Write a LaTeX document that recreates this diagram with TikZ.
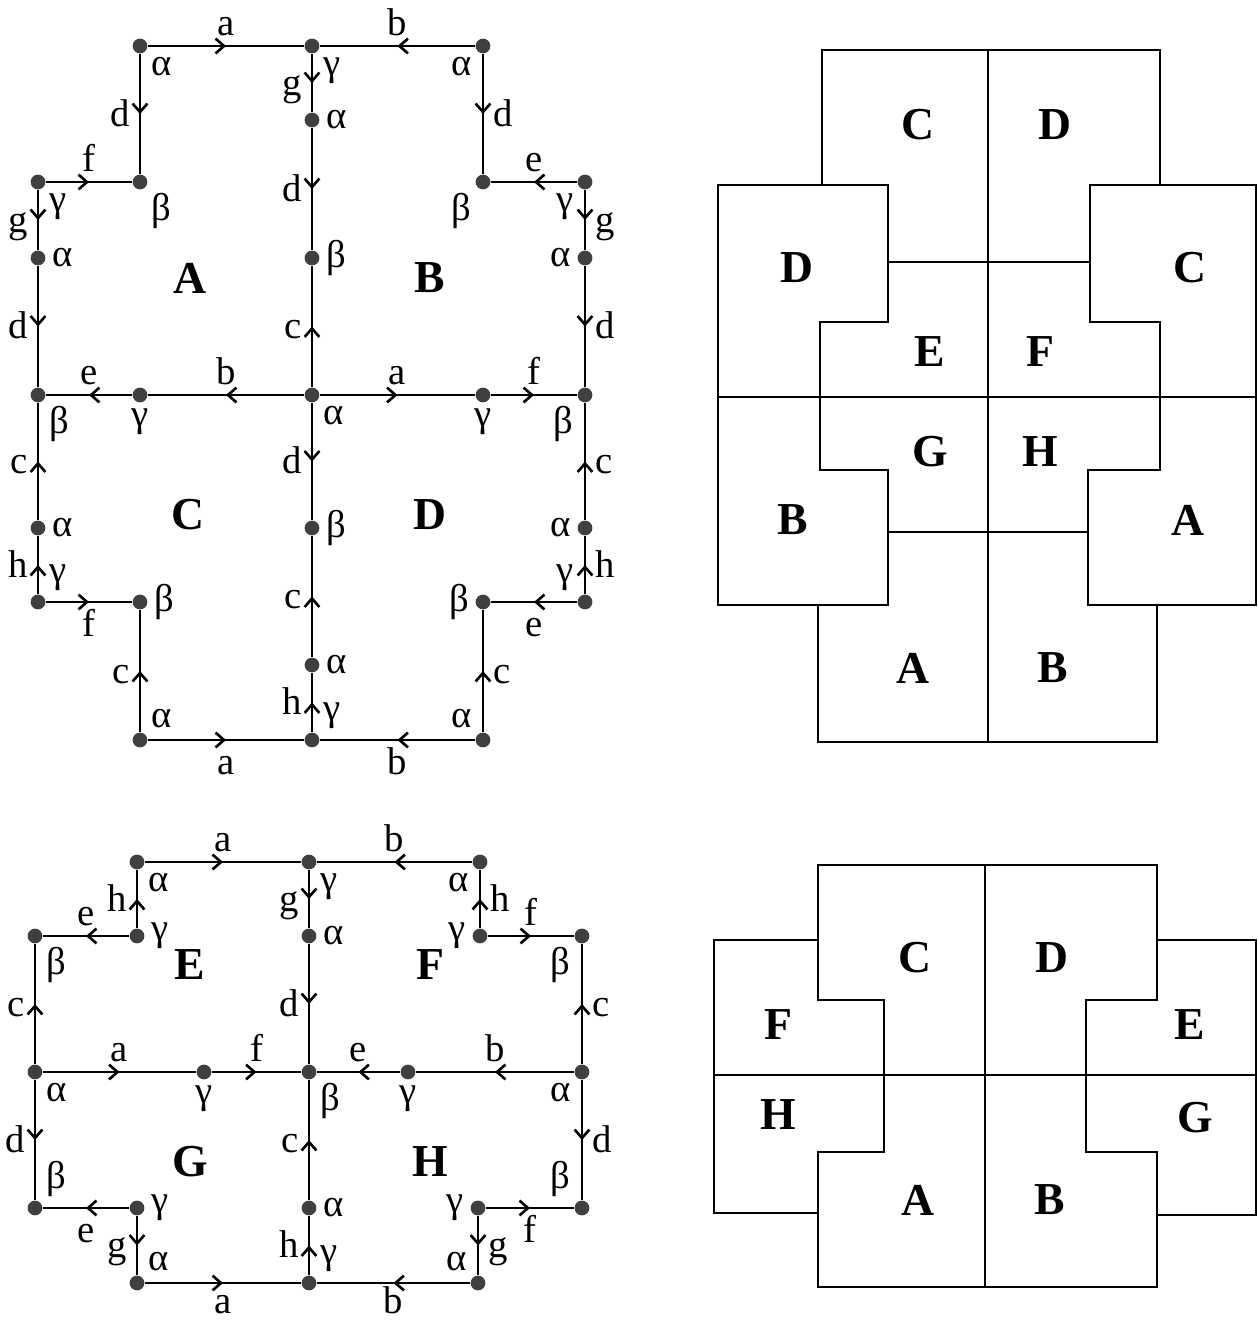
\documentclass[tikz,border=0pt]{standalone}
\usepackage{fontspec}
\setmainfont{Liberation Serif}
\usetikzlibrary{arrows.meta,decorations.markings}

\begin{document}
\begin{tikzpicture}[
    x=0.01cm, y=-0.01cm,
    vtx/.style={circle, fill=black!75, inner sep=0pt, minimum size=4.2pt},
    link/.style={line width=0.75pt, postaction={decorate},
        decoration={markings, mark=at position 0.5 with {\arrow{Straight Barb[length=2.4pt,width=4.2pt]}}},
        every node/.style={font=\fontsize{11}{12}\selectfont, inner sep=2.5pt, text height=1.5ex, text depth=0pt}},
    every label/.style={font=\fontsize{11}{12}\selectfont, inner sep=1.5pt},
    facelbl/.style={font=\fontsize{13}{15}\selectfont\bfseries},
    tile/.style={line width=0.7pt}
]
\useasboundingbox (0,0) rectangle (1258,1320);

% upper graph: faces A B C D
\node[vtx, label=below right:α] (uTL) at (140,46) {};
\node[vtx, label=below right:γ] (uTC) at (312,46) {};
\node[vtx, label=below left:α] (uTR) at (483,46) {};
\node[vtx, label=right:α] (uC1) at (312,120) {};
\node[vtx, label=below right:γ] (uLS) at (38,182) {};
\node[vtx, label=below right:β] (uLB) at (140,182) {};
\node[vtx, label=below left:β] (uRB) at (483,182) {};
\node[vtx, label=below left:γ] (uRS) at (585,182) {};
\node[vtx, label=right:α] (uLA) at (38,258) {};
\node[vtx, label=right:β] (uC2) at (312,258) {};
\node[vtx, label=left:α] (uRA) at (585,258) {};
\node[vtx, label=below right:β] (uL) at (38,395) {};
\node[vtx, label=below:γ] (uLG) at (140,395) {};
\node[vtx, label=below right:α] (uO) at (312,395) {};
\node[vtx, label=below:γ] (uRG) at (483,395) {};
\node[vtx, label=below left:β] (uR) at (585,395) {};
\node[vtx, label=right:α] (uLA2) at (38,528) {};
\node[vtx, label=right:β] (uC3) at (312,528) {};
\node[vtx, label=left:α] (uRA2) at (585,528) {};
\node[vtx, label=above right:γ] (uLS2) at (38,602) {};
\node[vtx, label=right:β] (uLB2) at (140,602) {};
\node[vtx, label=left:β] (uRB2) at (483,602) {};
\node[vtx, label=above left:γ] (uRS2) at (585,602) {};
\node[vtx, label=right:α] (uC4) at (312,665) {};
\node[vtx, label=above right:α] (uBL) at (140,740) {};
\node[vtx, label=above right:γ] (uBC) at (312,740) {};
\node[vtx, label=above left:α] (uBR) at (483,740) {};

\draw[link] (uTL) -- node[above] {a} (uTC);
\draw[link] (uTR) -- node[above] {b} (uTC);
\draw[link] (uTC) -- node[left] {g} (uC1);
\draw[link] (uC1) -- node[left] {d} (uC2);
\draw[link] (uO) -- node[left] {c} (uC2);
\draw[link] (uTL) -- node[left] {d} (uLB);
\draw[link] (uLS) -- node[above] {f} (uLB);
\draw[link] (uLS) -- node[left] {g} (uLA);
\draw[link] (uLA) -- node[left] {d} (uL);
\draw[link] (uO) -- node[above] {b} (uLG);
\draw[link] (uLG) -- node[above] {e} (uL);
\draw[link] (uTR) -- node[right] {d} (uRB);
\draw[link] (uRS) -- node[above] {e} (uRB);
\draw[link] (uRS) -- node[right] {g} (uRA);
\draw[link] (uRA) -- node[right] {d} (uR);
\draw[link] (uO) -- node[above] {a} (uRG);
\draw[link] (uRG) -- node[above] {f} (uR);
\draw[link] (uLA2) -- node[left] {c} (uL);
\draw[link] (uLS2) -- node[left] {h} (uLA2);
\draw[link] (uLS2) -- node[below] {f} (uLB2);
\draw[link] (uBL) -- node[left] {c} (uLB2);
\draw[link] (uBL) -- node[below] {a} (uBC);
\draw[link] (uO) -- node[left] {d} (uC3);
\draw[link] (uC4) -- node[left] {c} (uC3);
\draw[link] (uBC) -- node[left] {h} (uC4);
\draw[link] (uRA2) -- node[right] {c} (uR);
\draw[link] (uRS2) -- node[right] {h} (uRA2);
\draw[link] (uRS2) -- node[below] {e} (uRB2);
\draw[link] (uBR) -- node[right] {c} (uRB2);
\draw[link] (uBR) -- node[below] {b} (uBC);

\node[facelbl] (fA) at (190,278) {A};
\node[facelbl] (fB) at (430,278) {B};
\node[facelbl] (fC) at (188,515) {C};
\node[facelbl] (fD) at (430,515) {D};

% lower graph: faces E F G H
\node[vtx, label=below right:α] (lTL) at (137,862) {};
\node[vtx, label=below right:γ] (lTC) at (309,862) {};
\node[vtx, label=below left:α] (lTR) at (480,862) {};
\node[vtx, label=right:γ] (lES) at (137,936) {};
\node[vtx, label=below right:β] (lLB) at (35,936) {};
\node[vtx, label=right:α] (lC1) at (309,936) {};
\node[vtx, label=left:γ] (lRS) at (480,936) {};
\node[vtx, label=below left:β] (lRB) at (582,936) {};
\node[vtx, label=below right:α] (lL) at (35,1072) {};
\node[vtx, label=below:γ] (lLG) at (204,1072) {};
\node[vtx, label=below right:β] (lO) at (309,1072) {};
\node[vtx, label=below:γ] (lRG) at (408,1072) {};
\node[vtx, label=below left:α] (lR) at (582,1072) {};
\node[vtx, label=above right:β] (lLB2) at (35,1208) {};
\node[vtx, label=right:γ] (lGS) at (137,1208) {};
\node[vtx, label=right:α] (lC3) at (309,1208) {};
\node[vtx, label=left:γ] (lHS) at (478,1208) {};
\node[vtx, label=above left:β] (lRB2) at (582,1208) {};
\node[vtx, label=above right:α] (lBL) at (137,1283) {};
\node[vtx, label=above right:γ] (lBC) at (309,1283) {};
\node[vtx, label=above left:α] (lBR) at (478,1283) {};

\draw[link] (lTL) -- node[above] {a} (lTC);
\draw[link] (lTR) -- node[above] {b} (lTC);
\draw[link] (lES) -- node[left] {h} (lTL);
\draw[link] (lES) -- node[above] {e} (lLB);
\draw[link] (lL) -- node[left] {c} (lLB);
\draw[link] (lTC) -- node[left] {g} (lC1);
\draw[link] (lC1) -- node[left] {d} (lO);
\draw[link] (lL) -- node[above] {a} (lLG);
\draw[link] (lLG) -- node[above] {f} (lO);
\draw[link] (lRS) -- node[right] {h} (lTR);
\draw[link] (lRS) -- node[above] {f} (lRB);
\draw[link] (lR) -- node[right] {c} (lRB);
\draw[link] (lR) -- node[above] {b} (lRG);
\draw[link] (lRG) -- node[above] {e} (lO);
\draw[link] (lL) -- node[left] {d} (lLB2);
\draw[link] (lGS) -- node[below] {e} (lLB2);
\draw[link] (lGS) -- node[left] {g} (lBL);
\draw[link] (lBL) -- node[below, inner sep=0.5pt, yshift=-1pt] {a} (lBC);
\draw[link] (lC3) -- node[left] {c} (lO);
\draw[link] (lBC) -- node[left] {h} (lC3);
\draw[link] (lR) -- node[right] {d} (lRB2);
\draw[link] (lHS) -- node[below] {f} (lRB2);
\draw[link] (lHS) -- node[right] {g} (lBR);
\draw[link] (lBR) -- node[below, inner sep=0.5pt, yshift=-1pt] {b} (lBC);

\node[facelbl] (fE) at (190,965) {E};
\node[facelbl] (fF) at (430,965) {F};
\node[facelbl] (fG) at (190,1162) {G};
\node[facelbl] (fH) at (430,1162) {H};

% upper tiling
\draw[tile] (822,50) -- (988,50) -- (988,262) -- (888,262) -- (888,185) -- (822,185) -- cycle;
\draw[tile] (988,50) -- (1160,50) -- (1160,185) -- (1090,185) -- (1090,262) -- (988,262) -- cycle;
\draw[tile] (718,185) -- (888,185) -- (888,322) -- (820,322) -- (820,397) -- (718,397) -- cycle;
\draw[tile] (1090,185) -- (1256,185) -- (1256,397) -- (1160,397) -- (1160,322) -- (1090,322) -- cycle;
\draw[tile] (718,397) -- (820,397) -- (820,470) -- (888,470) -- (888,605) -- (718,605) -- cycle;
\draw[tile] (1160,397) -- (1256,397) -- (1256,605) -- (1088,605) -- (1088,470) -- (1160,470) -- cycle;
\draw[tile] (888,532) -- (988,532) -- (988,742) -- (818,742) -- (818,605) -- (888,605) -- cycle;
\draw[tile] (988,532) -- (1088,532) -- (1088,605) -- (1157,605) -- (1157,742) -- (988,742) -- cycle;
\draw[tile] (820,397) -- (1160,397);
\draw[tile] (988,50) -- (988,742);
\node[facelbl] (tC1) at (918,125) {C};
\node[facelbl] (tD1) at (1055,125) {D};
\node[facelbl] (tD2) at (797,268) {D};
\node[facelbl] (tC2) at (1190,268) {C};
\node[facelbl] (tE) at (930,352) {E};
\node[facelbl] (tF) at (1040,352) {F};
\node[facelbl] (tG) at (930,452) {G};
\node[facelbl] (tH) at (1040,452) {H};
\node[facelbl] (tB1) at (793,520) {B};
\node[facelbl] (tA1) at (1188,520) {A};
\node[facelbl] (tA2) at (913,668) {A};
\node[facelbl] (tB2) at (1053,668) {B};

% lower tiling
\draw[tile] (818,865) -- (985,865) -- (985,1075) -- (884,1075) -- (884,1000) -- (818,1000) -- cycle;
\draw[tile] (985,865) -- (1157,865) -- (1157,1000) -- (1086,1000) -- (1086,1075) -- (985,1075) -- cycle;
\draw[tile] (714,940) -- (818,940) -- (818,1000) -- (884,1000) -- (884,1075) -- (714,1075) -- cycle;
\draw[tile] (1157,940) -- (1256,940) -- (1256,1075) -- (1086,1075) -- (1086,1000) -- (1157,1000) -- cycle;
\draw[tile] (714,1075) -- (884,1075) -- (884,1152) -- (818,1152) -- (818,1213) -- (714,1213) -- cycle;
\draw[tile] (884,1075) -- (985,1075) -- (985,1287) -- (818,1287) -- (818,1152) -- (884,1152) -- cycle;
\draw[tile] (985,1075) -- (1086,1075) -- (1086,1152) -- (1157,1152) -- (1157,1287) -- (985,1287) -- cycle;
\draw[tile] (1086,1075) -- (1256,1075) -- (1256,1215) -- (1157,1215) -- (1157,1152) -- (1086,1152) -- cycle;
\node[facelbl] (bC) at (915,958) {C};
\node[facelbl] (bD) at (1052,958) {D};
\node[facelbl] (bF) at (778,1025) {F};
\node[facelbl] (bE) at (1190,1025) {E};
\node[facelbl] (bH) at (778,1115) {H};
\node[facelbl] (bG) at (1195,1118) {G};
\node[facelbl] (bA) at (918,1200) {A};
\node[facelbl] (bB) at (1050,1200) {B};
\end{tikzpicture}
\end{document}
